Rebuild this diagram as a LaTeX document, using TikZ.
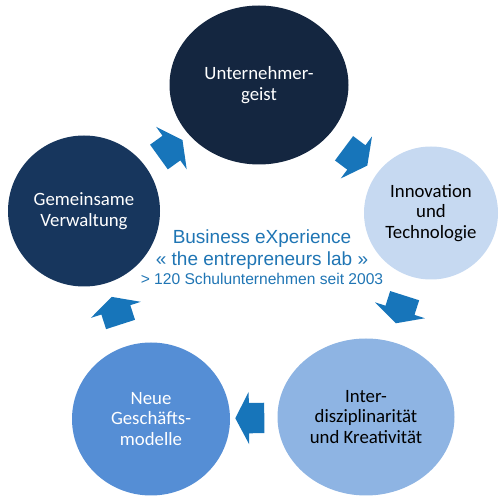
\documentclass[tikz,border=0pt]{standalone}
\usepackage{fontspec}
\setmainfont{Carlito}
\newfontfamily\arialfont{Liberation Sans}
\usetikzlibrary{positioning,shapes.geometric,shapes.arrows}
\definecolor{navy}{RGB}{20,38,64}
\definecolor{darkblue}{RGB}{23,54,93}
\definecolor{midblue}{RGB}{85,142,213}
\definecolor{softblue}{RGB}{142,180,227}
\definecolor{paleblue}{RGB}{198,217,241}
\definecolor{arrowblue}{RGB}{23,117,186}
\definecolor{textblue}{RGB}{31,117,180}
\begin{document}
\begin{tikzpicture}[x=1pt,y=-1pt,
  disc/.style={ellipse, inner sep=0pt, align=center, font=\fontsize{18.8}{20.5}\selectfont},
  flow/.style={single arrow, fill=arrowblue, sloped, allow upside down,
    inner xsep=0pt, inner ysep=15pt, minimum height=29pt, minimum width=29pt,
    single arrow head extend=11pt, single arrow tip angle=125}]
  \useasboundingbox (0,0) rectangle (499,497);
  \node (u) [disc, fill=navy, text=white, minimum width=179pt, minimum height=159pt] at (259,85) {Unternehmer-\\geist};
  \node (i) [disc, fill=paleblue, minimum width=134pt, minimum height=133pt, on grid, below right=128pt and 172pt of u] {Innovation\\und\\Technologie};
  \node (k) [disc, fill=softblue, minimum width=177pt, minimum height=157pt, on grid, below left=204pt and 65pt of i] {Inter-\\disziplinarität\\und Kreativität};
  \node (n) [disc, fill=midblue, text=white, minimum width=158pt, minimum height=153pt, on grid, below left=2pt and 215pt of k] {Neue\\Geschäfts-\\modelle};
  \node (g) [disc, fill=darkblue, text=white, minimum width=152pt, minimum height=151pt, on grid, above left=208pt and 67pt of n] {Gemeinsame\\Verwaltung};
  \node (t) [align=center, text=textblue, font=\arialfont\fontsize{19}{22.3}\selectfont] at (262,257) {Business eXperience\\« the entrepreneurs lab »\\[-3.3pt]{\fontsize{15.6}{19}\selectfont > 120 Schulunternehmen seit 2003}};
  \path (g) -- node[flow] {} (u)
        (u) -- node[flow] {} (i)
        (i) -- node[flow, pos=.45] {} (k)
        (k) -- node[flow] {} (n)
        (n) -- node[flow] {} (g);
\end{tikzpicture}
\end{document}
